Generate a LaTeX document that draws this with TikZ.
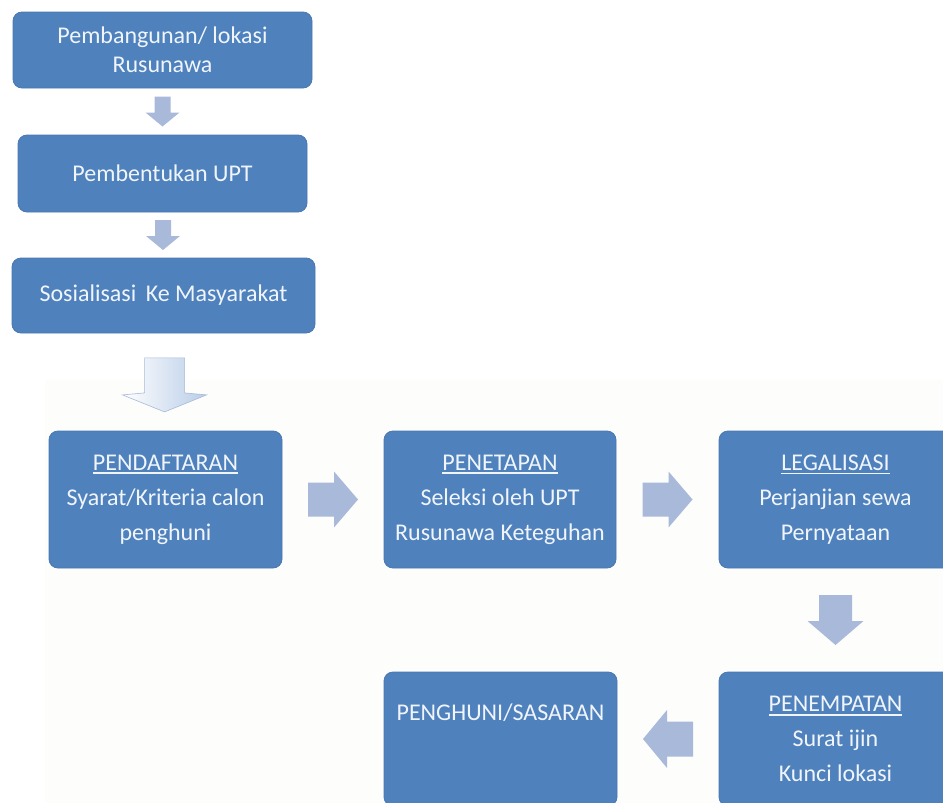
\documentclass[tikz,border=0pt]{standalone}
\usepackage{fontspec}
\setmainfont{Carlito}
\usetikzlibrary{calc}
\definecolor{boxblue}{HTML}{4F81BD}
\definecolor{boxedge}{HTML}{4A78B2}
\definecolor{txt}{HTML}{F0F5FB}
\definecolor{arrowfill}{HTML}{A9B9DA}
\definecolor{bigarrow}{HTML}{B9CDE8}
\definecolor{bigedge}{HTML}{A7BAD6}
\definecolor{bgfaint}{HTML}{FDFDFC}
\newcommand\myul[1]{\leavevmode\setbox0\hbox{#1}\rlap{\rule[-4pt]{\wd0}{1.8pt}}\box0}
\newcommand\barrow[6]{\fill[arrowfill,shift={(#1)},rotate=#2] (-#3,-#5) -- (#3-#4,-#5) -- (#3-#4,-#6) -- (#3,0) -- (#3-#4,#6) -- (#3-#4,#5) -- (-#3,#5) -- cycle;}
\begin{document}
\begin{tikzpicture}[x=1pt,y=-1pt,
  box/.style={fill=boxblue, draw=boxedge, line width=0.8pt, rounded corners=9pt,
    text=txt, align=center, inner sep=0pt},
  topfont/.style={font=\fontsize{24}{29}\selectfont},
  rowfont/.style={font=\fontsize{24}{35}\selectfont},
  plain/.style={text=txt, inner sep=0pt, font=\fontsize{24}{29}\selectfont}]
\useasboundingbox (0,0) rectangle (943,803);
\fill[bgfaint] (45,380) rectangle (943,803);
% top column
\node[box, topfont, minimum width=299pt, minimum height=76pt] (b1) at (162.5,50) {Pembangunan/ lokasi\\Rusunawa};
\node[box, topfont, minimum width=289pt, minimum height=77pt] (b2) at (162.5,173.5) {Pembentukan UPT};
\node[box, topfont, minimum width=303pt, minimum height=75pt] (b3) at (163.5,295.5) {Sosialisasi\hspace{4pt} Ke Masyarakat};
% row 2
\node[box, rowfont, minimum width=233pt, minimum height=137pt] (pA) at (165.5,499.5) {\myul{PENDAFTARAN}\\Syarat/Kriteria calon\\penghuni};
\node[box, rowfont, minimum width=232pt, minimum height=137pt] (pB) at (500,499.5) {\myul{PENETAPAN}\\Seleksi oleh UPT\\Rusunawa Keteguhan};
\node[box, rowfont, minimum width=233pt, minimum height=137pt] (pC) at (835.5,499.5) {\myul{LEGALISASI}\\Perjanjian sewa\\Pernyataan};
% row 3
\node[box, rowfont, minimum width=233pt, minimum height=134pt] (pD) at (835.5,739) {\myul{PENEMPATAN}\\Surat ijin\\Kunci lokasi};
\node[box, minimum width=233pt, minimum height=134pt] (pE) at (500.5,739) {};
\node[plain] (pEt) at (500.5,713) {PENGHUNI/SASARAN};
% small arrows
\barrow{$(b1.south)!0.5!(b2.north)$}{-90}{15}{14}{8}{17}
\barrow{$(b2.south)!0.5!(b3.north)$}{-90}{15}{14}{8}{17}
% big arrow
\coordinate (bigc) at ($(b3.south)!0.53!(pA.north)$);
\shade[left color=white, right color=bigarrow, draw=bigedge, line width=0.6pt, shift={(bigc)}]
  (-20,-27) -- (20,-27) -- (20,8) -- (42,10) -- (0,27) -- (-42,10) -- (-20,8) -- cycle;
% row arrows
\barrow{$(pA.east)!0.5!(pB.west)$}{0}{25}{24}{17}{28}
\barrow{$(pB.east)!0.5!(pC.west)$}{0}{25}{24}{17}{28}
\barrow{$(pC.south)!0.5!(pD.north)$}{-90}{25}{24}{16.5}{28}
\barrow{$(pD.west)!0.5!(pE.east)$}{180}{25}{24}{17.5}{29}
\end{tikzpicture}
\end{document}
